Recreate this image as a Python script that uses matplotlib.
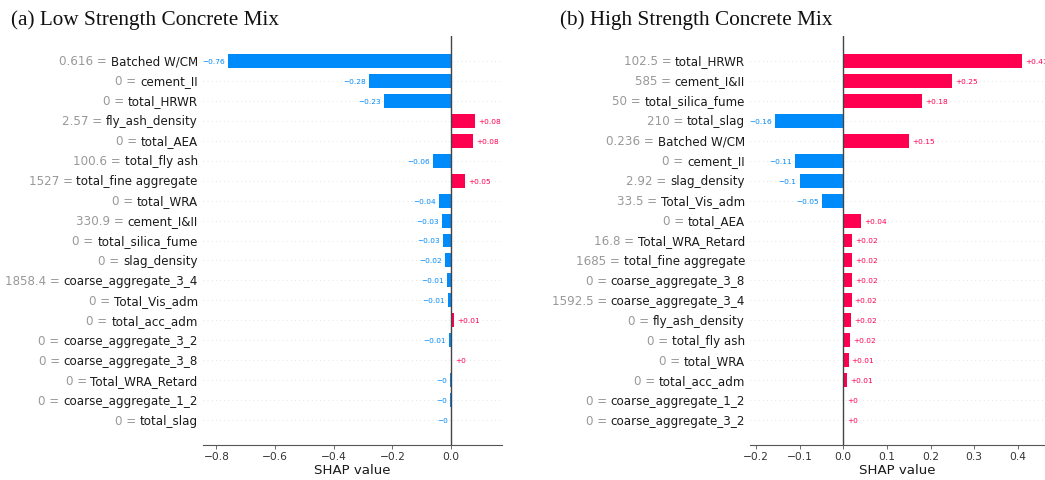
import matplotlib
matplotlib.use("Agg")
import matplotlib.pyplot as plt
import matplotlib.transforms as mtransforms

# (a) low strength mix
low_features = ["Batched W/CM", "cement_II", "total_HRWR", "fly_ash_density", "total_AEA",
                "total_fly ash", "total_fine aggregate", "total_WRA", "cement_I&II",
                "total_silica_fume", "slag_density", "coarse_aggregate_3_4", "Total_Vis_adm",
                "total_acc_adm", "coarse_aggregate_3_2", "coarse_aggregate_3_8",
                "Total_WRA_Retard", "coarse_aggregate_1_2", "total_slag"]
low_inputs = ["0.616", "0", "0", "2.57", "0", "100.6", "1527", "0", "330.9", "0", "0",
              "1858.4", "0", "0", "0", "0", "0", "0", "0"]
low_shap = [-0.76, -0.28, -0.23, 0.082, 0.076, -0.062, 0.047, -0.042, -0.031, -0.026,
            -0.02, -0.013, -0.011, 0.01, -0.006, 0.004, -0.003, -0.002, -0.001]

# (b) high strength mix
high_features = ["total_HRWR", "cement_I&II", "total_silica_fume", "total_slag",
                 "Batched W/CM", "cement_II", "slag_density", "Total_Vis_adm", "total_AEA",
                 "Total_WRA_Retard", "total_fine aggregate", "coarse_aggregate_3_8",
                 "coarse_aggregate_3_4", "fly_ash_density", "total_fly ash", "total_WRA",
                 "total_acc_adm", "coarse_aggregate_1_2", "coarse_aggregate_3_2"]
high_inputs = ["102.5", "585", "50", "210", "0.236", "0", "2.92", "33.5", "0", "16.8",
               "1685", "0", "1592.5", "0", "0", "0", "0", "0", "0"]
high_shap = [0.41, 0.25, 0.18, -0.157, 0.15, -0.11, -0.10, -0.05, 0.04, 0.02, 0.02, 0.02,
             0.019, 0.018, 0.0155, 0.012, 0.009, 0.002, 0.001]

BLUE = "#008bfb"
RED = "#ff0051"
W, H = 1045, 481


def fmt(v):
    s = f"{v:+.2f}".rstrip("0").rstrip(".")
    return s.replace("-", "\u2212")


def shap_bar(ax, features, inputs, values, xlim, xticks):
    n = len(features)
    ys = list(range(n))
    colors = [RED if v > 0 else BLUE for v in values]
    for y in ys:
        ax.axhline(y, color="#cccccc", lw=0.5, dashes=(1, 5), zorder=-1)
    ax.barh(ys, values, height=0.7, color=colors, zorder=2)
    ax.axvline(0, color="#444444", lw=1, zorder=3)
    ax.set_xlim(*xlim)
    ax.set_ylim(n - 1 + 1.25, -1.25)

    off = mtransforms.ScaledTranslation(-5 / 100, 0, ax.figure.dpi_scale_trans)
    trans = mtransforms.blended_transform_factory(ax.transAxes, ax.transData) + off
    for y, name, val, v, c in zip(ys, features, inputs, values, colors):
        t = ax.text(0, y, name, transform=trans, ha="right", va="center",
                    fontsize=8.6, color="#1a1a1a")
        ax.annotate(val + " = ", xy=(0, 0.5), xycoords=t, ha="right", va="center",
                    fontsize=8.6, color="#999999")
        dx = 2.2 if v > 0 else -2.2
        ax.annotate(fmt(v), xy=(v, y), xytext=(dx, 0), textcoords="offset points",
                    ha="left" if v > 0 else "right", va="center", fontsize=5.3, color=c)

    ax.set_yticks([])
    for s in ("top", "right", "left"):
        ax.spines[s].set_visible(False)
    ax.spines["bottom"].set_color("#555555")
    ax.set_xticks(xticks)
    ax.set_xticklabels([f"{x:.1f}".replace("-", "\u2212") for x in xticks])
    ax.tick_params(axis="x", labelsize=7.7, length=3, width=0.6, color="#555555",
                   labelcolor="#333333", pad=1.5)
    ax.set_xlabel("SHAP value", fontsize=9.6, color="#1a1a1a", labelpad=1)


fig = plt.figure(figsize=(W / 100, H / 100), dpi=100)
bottom = (H - 446) / H
height = (446 - 37) / H

ax1 = fig.add_axes([202.7 / W, bottom, (501.7 - 202.7) / W, height])
shap_bar(ax1, low_features, low_inputs, low_shap, (-0.847, 0.173),
         [-0.8, -0.6, -0.4, -0.2, 0.0])

ax2 = fig.add_axes([750 / W, bottom, (W - 750) / W, height])
shap_bar(ax2, high_features, high_inputs, high_shap, (-0.214, 0.4626),
         [-0.2, -0.1, 0.0, 0.1, 0.2, 0.3, 0.4])

fig.text(11 / W, 1 - 20 / H, "(a) Low Strength Concrete Mix", family="Liberation Serif",
         fontsize=15.3, va="center", ha="left", color="#111111")
fig.text(560 / W, 1 - 20 / H, "(b) High Strength Concrete Mix", family="Liberation Serif",
         fontsize=15.3, va="center", ha="left", color="#111111")

fig.savefig("out.png", dpi=100, facecolor="white")
